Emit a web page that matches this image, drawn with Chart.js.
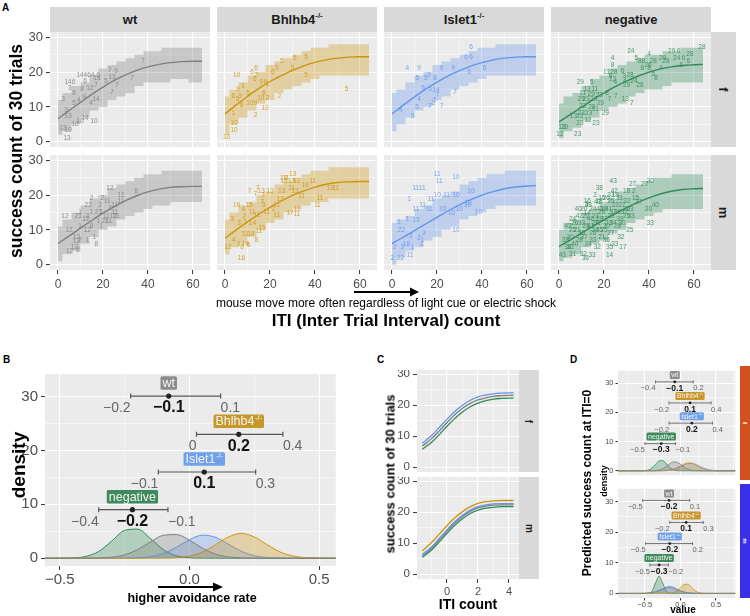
<!DOCTYPE html>
<html><head><meta charset="utf-8">
<script src="https://cdn.jsdelivr.net/npm/chart.js"></script>
<style>
body{margin:0;background:#fff;width:750px;height:616px;position:relative;overflow:hidden;font-family:"Liberation Sans",Arial,sans-serif;color:#000;}
canvas{position:absolute;}
.t{position:absolute;white-space:nowrap;transform:translate(-50%,-50%);}
.rt{position:absolute;white-space:nowrap;transform:translate(-50%,-50%) rotate(-90deg);font-weight:bold;}
.strip{position:absolute;background:#d9d9d9;color:#1a1a1a;display:flex;align-items:center;justify-content:center;font-weight:bold;}
.vt{transform:rotate(90deg);white-space:nowrap;}
sup{font-size:60%;vertical-align:0;position:relative;top:-0.55em;}
.lab{position:absolute;font-weight:bold;font-size:10px;}
</style></head><body>
<script>
// ================= DATA =================
const groups = ['wt','Bhlhb4','Islet1','negative'];
const groupColors = ['#7f7f7f','#cd950c','#6495ed','#2e8b57'];
// Panel A: fitted curve x positions and fits
const curveX = [0,5,10,15,20,25,30,35,40,45,50,55,60,64];
const fitWtF  = [6.6,9,11.3,13.6,15.7,17.6,19.2,20.5,21.5,22.2,22.7,23,23.1,23.1];
const fitBhF  = [8,10.6,13,15.3,17.3,19,20.5,21.8,22.8,23.5,24,24.3,24.4,24.4];
const fitIsF  = [8,10.5,12.9,15.1,17.1,18.9,20.4,21.7,22.7,23.5,24,24.3,24.4,24.4];
const fitNegF = [5.7,7.8,9.9,12,14,15.8,17.4,18.8,20,20.9,21.5,21.9,22.1,22.2];
const fitWtM  = [6.1,8.3,10.5,12.7,14.8,16.7,18.4,19.8,20.9,21.7,22.2,22.4,22.5,22.5];
const fitBhM  = [7.6,10,12.3,14.5,16.5,18.3,19.9,21.2,22.3,23.1,23.6,23.8,23.9,23.9];
const fitIsM  = [6.1,7.9,9.8,11.7,13.6,15.5,17.2,18.7,20,21,21.8,22.3,22.6,22.7];
const fitNegM = [5.2,7.1,9.1,11,12.9,14.7,16.4,17.9,19.2,20.3,21.1,21.6,21.8,21.9];
// Panel A: prediction ribbons (stepped)
const ribX = [0,4,8,12,16,20,24,28,32,36,40,44,48,52,56,60,64];
const ribWtF_lo  = [2,3,5,7,9,10,12,13,14,16,17,17,17,18,18,17,17];
const ribWtF_hi  = [12,14,16,17,19,21,22,23,24,25,26,26,27,27,27,27,27];
const ribBhF_lo  = [2,5,7,9,11,12,14,15,16,17,18,19,19,19,19,19,19];
const ribBhF_hi  = [13,15,17,19,20,22,23,24,25,26,27,27,28,28,28,28,28];
const ribIsF_lo  = [3,5,7,9,10,12,13,15,16,17,18,19,19,19,19,19,19];
const ribIsF_hi  = [14,15,17,19,20,22,23,24,25,26,27,27,28,28,28,28,28];
const ribNegF_lo = [1,3,4,6,7,9,10,11,13,14,15,15,16,17,17,17,17];
const ribNegF_hi = [11,13,14,16,18,19,21,22,23,24,25,25,26,26,27,27,27];
const ribWtM_lo  = [1,3,4,6,8,10,11,13,14,15,16,17,17,18,18,18,18];
const ribWtM_hi  = [11,13,15,17,19,20,22,23,24,25,26,26,27,27,27,27,27];
const ribBhM_lo  = [3,5,6,8,10,12,13,15,16,17,18,18,19,19,19,19,19];
const ribBhM_hi  = [13,15,17,18,20,21,23,24,25,26,27,27,28,28,28,28,28];
const ribIsM_lo  = [0,2,4,5,7,8,10,11,13,14,15,16,17,17,17,17,17];
const ribIsM_hi  = [12,13,14,16,17,19,20,21,23,24,25,26,26,27,27,27,27];
const ribNegM_lo = [1,2,3,5,6,7,9,10,12,13,14,15,16,16,16,16,16];
const ribNegM_hi = [10,12,13,15,16,18,19,21,22,23,24,25,25,26,26,26,26];
// Panel A: labelled observations [ITI count, success count, mouse id]
const ptsWtF = [[37.8,23,'7'],[23,20.5,'7'],[25.8,20.2,'9'],[24,18.4,'13'],[32.9,18.2,'7'],[21.3,17.3,'5'],[26.2,16.1,'7'],[24,14.1,'7'],[9.8,19,'14'],[13.8,19,'464'],[17.8,19,'6'],[5.3,17,'146'],[17.3,18.2,'18'],[12,17.3,'6'],[5.3,15.3,'3'],[10.7,15,'8'],[14.2,15.3,'12'],[16.9,16.1,'7'],[7.1,13.8,'8'],[2.2,12.1,'3'],[7.1,11.2,'5'],[9.3,11.8,'4'],[11.6,12.7,'9'],[16.9,12.1,'14'],[14.7,11.2,'4'],[3.6,9.2,'3'],[4.4,7.2,'13'],[7.6,4.9,'10'],[12,6.9,'14'],[9.8,6,'10'],[16,6,'10'],[2.2,4,'13'],[4.4,3.2,'10'],[4,1.1,'13']];
const ptsBhF = [[5.2,19,'10'],[25.2,23.1,'5'],[31,23.9,'5'],[36,24.2,'5'],[23,21.2,'5'],[30,21.2,'5'],[36,19,'5'],[54,15,'5'],[13.8,21,'6'],[12,20.1,'6'],[13.8,19,'2'],[21.3,20.1,'6'],[13.3,17.9,'6'],[8,16,'1'],[5.8,15,'9'],[16,17.1,'9'],[18,17.1,'6'],[18.9,16.4,'1'],[17.3,13.8,'6'],[24.3,13.1,'2'],[3.7,13.1,'6'],[6.7,13.1,'9'],[10.4,13.8,'5'],[11.1,11.2,'10'],[13.6,11.2,'9'],[15.9,12.4,'10'],[18.9,12.4,'2'],[17.8,9.6,'10'],[13.6,7.5,'2'],[3.7,8.3,'1'],[4,5.2,'10'],[4,3.3,'10'],[0.7,1.4,'10'],[7.4,10.4,'6'],[5.6,12.2,'5']];
const ptsIsF = [[6.8,21,'4'],[12,21,'9'],[22,21,'9'],[27.3,21,'9'],[11.3,18.1,'5'],[15,18.1,'5'],[16.4,19,'9'],[19.1,18.1,'8'],[13.9,15.5,'6'],[16.9,15.2,'5'],[19.5,14.9,'14'],[20.1,13.5,'7'],[12,12.2,'4'],[19.1,12,'6'],[18.4,11.2,'8'],[28,14.2,'7'],[16.9,10.2,'7'],[22,10.2,'7'],[3.9,9.1,'4'],[11.1,10,'5'],[9.2,7.3,'5'],[35.1,27.1,'6'],[32.9,24.3,'6'],[35.1,24.3,'6'],[34.4,20.1,'6'],[41.1,21.1,'6']];
const ptsNegF = [[31.9,26,'24'],[23.8,24.1,'4'],[23.8,22,'8'],[40,25,'4'],[34.4,24.1,'5'],[36.7,23.1,'88'],[41.9,23.1,'28'],[39.6,22.1,'26'],[37,21,'8'],[40,21,'8'],[45.2,21,'4'],[41.9,19.3,'5'],[43.1,18.1,'8'],[46.1,24.1,'29'],[47.5,23.1,'28'],[50.1,26,'29'],[53.1,26,'6'],[52.3,24.1,'24'],[58.2,25,'28'],[55.3,24.1,'6'],[57.5,23.1,'6'],[63.5,27.1,'28'],[54.3,22.1,'6'],[21.1,20,'11'],[24.4,20,'28'],[22.9,18.8,'6'],[23.8,17.9,'13'],[25,17.1,'4'],[28.3,20.2,'6'],[29,18.8,'3'],[31.6,19,'28'],[29.3,17.4,'4'],[30,16.1,'29'],[33.3,17.4,'24'],[36,16.1,'28'],[9.5,17.1,'29'],[14.6,17.1,'5'],[12.5,15.2,'13'],[15.9,15.2,'11'],[10.5,14,'11'],[14.3,13.7,'29'],[17.9,13.5,'23'],[21.4,14,'8'],[9.9,12.1,'29'],[12,12.2,'23'],[15.4,12.1,'29'],[22.5,12.1,'7'],[25.3,13.2,'7'],[29.5,12.1,'13'],[32.4,11.2,'7'],[18.5,11.2,'29'],[10.5,10.2,'23'],[14.6,10,'28'],[9.9,8.3,'23'],[13.2,8.3,'23'],[16.2,9.3,'11'],[20.6,8.3,'29'],[6.4,7.3,'13'],[9.3,7.3,'12'],[9.3,5.4,'23'],[12.9,6.3,'12'],[16.4,5.2,'23'],[1.3,4.2,'13'],[2.5,4.2,'29'],[0.4,2.3,'12'],[8.3,2.3,'23']];
const ptsWtM = [[23.1,22.1,'12'],[34.8,21.1,'8'],[28.1,20.1,'11'],[14.9,19.2,'2'],[13.4,17.2,'22'],[18.7,17.2,'2'],[19.8,19.2,'2'],[21.9,18.2,'11'],[25.3,17.2,'11'],[27.9,18.2,'11'],[3.1,14,'12'],[9.8,15,'1'],[9,14,'21'],[13,14,'2'],[12.4,13,'12'],[14.9,15,'1'],[17.9,15,'21'],[19.4,15,'1'],[21.4,13.8,'11'],[20.9,12.4,'21'],[17.9,12.4,'1'],[22.4,12.4,'11'],[25.3,15,'11'],[24.6,14,'12'],[25.9,13.8,'11'],[23.1,16.2,'3'],[19.4,11.2,'1'],[9.8,11,'1'],[4.9,10,'12'],[14.9,11,'8'],[13,10,'12'],[16.1,7.9,'1'],[8.2,7.9,'12'],[13,7.1,'1'],[9.8,7.1,'2'],[8.2,6.9,'12'],[17,5.9,'8'],[7.3,4.9,'12'],[5.2,3.8,'12'],[8.8,4.1,'8']];
const ptsBhM = [[30.1,26.1,'13'],[26,24.9,'13'],[27.1,24.7,'11'],[26.2,23.9,'13'],[29.6,23.9,'13'],[31.9,23.9,'12'],[39,23.9,'11'],[35.6,22.9,'10'],[29.6,22,'11'],[31.1,21,'13'],[25.2,21,'13'],[46.7,22,'13'],[49.2,22,'11'],[34.1,19.7,'11'],[42.2,19.1,'11'],[41,17,'11'],[32.1,16,'11'],[28.9,14.9,'17'],[31.9,14.5,'11'],[10.9,21,'7'],[14.6,22,'7'],[16.1,21,'13'],[20.1,21,'13'],[13.6,20.3,'7'],[16.9,20,'3'],[24.6,18.8,'13'],[5.2,17,'16'],[8.1,15.9,'4'],[10.8,17,'15'],[17.3,17,'3'],[16.6,18,'7'],[23,17.2,'11'],[21.5,16,'2'],[18.5,15,'11'],[23,14.2,'11'],[3.1,13,'3'],[8.6,14,'2'],[12,15,'11'],[14.2,14.2,'11'],[12.2,11.8,'14'],[6.2,11.8,'3'],[9.1,12.3,'1'],[16.6,10.6,'15'],[15.1,9.7,'11'],[9.1,8.9,'11'],[11.6,8.7,'14'],[14,7,'8'],[3.8,7,'4'],[6,5.8,'3'],[9.1,5.8,'14'],[10.5,5.5,'6'],[1.3,4.9,'12'],[7.6,4.9,'8'],[7.3,2,'16']];
const ptsIsM = [[20.1,26.1,'11'],[21,23.9,'11'],[28.4,25.2,'10'],[12,22,'1111'],[20.1,20.1,'10'],[24.3,20.1,'11'],[28.4,20.1,'10'],[7.6,18.8,'1'],[17.3,18.8,'11'],[13.6,17,'11'],[16.6,16,'11'],[10.7,16,'11'],[22.5,16,'10'],[29.9,16,'10'],[26.5,14.9,'10'],[33.6,17.2,'10'],[35.1,21,'10'],[6.8,13,'1'],[10.7,12.8,'13'],[3.1,12.1,'1'],[4.2,9.8,'22'],[8.3,8.1,'3'],[12,7.6,'2'],[14.2,9,'3'],[13.6,7.1,'1'],[13.2,5.9,'1'],[6.4,5.9,'18'],[1.2,4.9,'2'],[4.6,4.9,'3'],[9.1,4.9,'1'],[8.1,2.7,'11'],[0.1,2,'2'],[3.8,2,'22'],[28.4,9.9,'10'],[33.9,17.7,'10'],[38.3,15,'10']];
const ptsNegM = [[24.1,24,'43'],[17.9,22,'38'],[16,20.1,'2'],[32.7,23,'27'],[38.1,23,'27'],[40.6,24,'30'],[33.3,21,'2'],[30,21,'18'],[24.6,21,'42'],[12.6,18.1,'16'],[17.8,18.1,'18'],[23,18.1,'25'],[30.2,18.1,'32'],[34,19,'15'],[35.3,18,'27'],[8.5,16,'40'],[31.6,16,'23'],[39.8,16,'20'],[42.8,17,'40'],[12.6,14.9,'14'],[6,13,'24'],[12.2,17.5,'3'],[40.6,12,'33'],[31.5,9.9,'25'],[27.5,7.8,'32'],[22.5,4.9,'35'],[24.8,5.9,'33'],[28.4,4.9,'17'],[22.5,2.7,'14'],[1.5,2.7,'43'],[11.7,1.9,'36'],[14.7,2.7,'33'],[6.1,3,'31'],[3.9,4.9,'38'],[10.8,3,'32'],[8,10,'21'],[10,12,'33'],[12,11,'25'],[14,13,'40'],[15,9,'26'],[16,14,'23'],[17,12,'31'],[18,10,'35'],[19,15,'28'],[20,13,'37'],[21,11,'30'],[22,16,'41'],[23,14,'29'],[24,12,'34'],[25,17,'22'],[26,15,'36'],[27,13,'39'],[28,17,'27'],[29,15,'32'],[30,14,'25'],[9,14,'42'],[11,16,'20'],[13,17,'38'],[15,16,'24'],[17,18,'43'],[19,19,'15'],[21,19,'26'],[23,20,'33'],[25,20,'18'],[27,19,'31'],[5,8,'30'],[7,6,'40'],[9,7,'28'],[11,8,'37'],[13,6,'24'],[15,7,'33'],[17,5,'32'],[19,8,'21'],[21,7,'36'],[23,9,'27'],[4,11,'43'],[6,10,'25'],[3,7,'38'],[5,5,'31'],[7,12,'26'],[10,9,'35'],[12,14,'22'],[14,11,'41'],[16,10,'34'],[18,13,'29'],[20,16,'39'],[22,12,'23'],[24,15,'37'],[26,11,'28'],[28,12,'30'],[30,16,'20'],[32,14,'33'],[16,12,'27'],[18,16,'40'],[20,10,'25']];

// Panel B: posterior densities of the group effect
const bGrid = [-0.6,-0.55,-0.5,-0.45,-0.4,-0.35,-0.3,-0.25,-0.2,-0.15,-0.1,-0.05,0,0.05,0.1,0.15,0.2,0.25,0.3,0.35,0.4,0.45,0.5,0.55,0.6];
const bDensWt  = [0,0,0,0,0.01,0.04,0.17,0.61,1.59,3.03,4.26,4.39,3.33,1.85,0.75,0.23,0.05,0.01,0,0,0,0,0,0,0];
const bDensBh  = [0,0,0,0,0,0,0,0,0,0,0.02,0.1,0.39,1.14,2.49,3.94,4.6,3.94,2.49,1.14,0.39,0.1,0.02,0,0];
const bDensIs  = [0,0,0,0,0,0,0,0.01,0.07,0.28,0.88,2.04,3.43,4.27,3.89,2.61,1.28,0.46,0.12,0.02,0,0,0,0,0];
const bDensNeg = [0,0,0.01,0.05,0.32,1.25,3.17,5.16,5.4,3.63,1.56,0.43,0.08,0.01,0,0,0,0,0,0,0,0,0,0,0];
const bRowY = [30.1, 23, 16, 9];
const bEst  = [-0.08, 0.19, 0.057, -0.22];
const bLo   = [-0.227, 0.027, -0.12, -0.35];
const bHi   = [0.12, 0.36, 0.255, -0.083];
const bEstLbl = ['−0.1','0.2','0.1','−0.2'];
const bLoLbl  = ['−0.2','0','−0.1','−0.4'];
const bHiLbl  = ['0.1','0.4','0.3','−0.1'];

// Panel C: group curves per sex
const cX = [-1.6,-1,-0.5,0,0.5,1,1.5,2,2.5,3,3.5,4,4.3];
const cBlueF  = [7.7,10.2,12.8,15.5,18,20,21.6,22.7,23.3,23.7,23.9,24,24];
const cGreyF  = [6.8,9.2,11.7,14.4,16.9,19,20.6,21.7,22.4,22.9,23.1,23.2,23.2];
const cGreenF = [5.8,8,10.5,13.2,15.7,17.8,19.5,20.7,21.5,22,22.2,22.3,22.3];
const cOrangeM= [7.5,10.2,12.9,15.7,18.2,20.2,21.8,22.9,23.4,23.7,23.8,23.8,23.8];
const cBlueM  = [6.3,8.8,11.5,14.3,16.9,19,20.7,21.8,22.4,22.7,22.8,22.8,22.8];
const cGreyM  = [5.9,8.4,11.1,13.9,16.5,18.6,20.3,21.4,22,22.3,22.4,22.4,22.4];
const cGreenM = [5.4,7.8,10.4,13.2,15.8,17.9,19.6,20.7,21.3,21.6,21.8,21.8,21.8];

// Panel D: predicted success at ITI=0, densities per sex
const dGrid = [-0.9,-0.85,-0.8,-0.75,-0.7,-0.65,-0.6,-0.55,-0.5,-0.45,-0.4,-0.35,-0.3,-0.25,-0.2,-0.15,-0.1,-0.05,0,0.05,0.1,0.15,0.2,0.25,0.3,0.35,0.4,0.45,0.5,0.55,0.6,0.65,0.7,0.75,0.8];
const dWtF  = [0,0,0,0,0,0,0,0,0,0,0.02,0.08,0.28,0.73,1.51,2.43,3.04,2.97,2.25,1.33,0.61,0.22,0.06,0.01,0,0,0,0,0,0,0,0,0,0,0];
const dBhF  = [0,0,0,0,0,0,0,0,0,0,0,0,0.01,0.02,0.08,0.22,0.51,0.98,1.64,2.28,2.66,2.62,2.16,1.5,0.88,0.43,0.18,0.06,0.02,0,0,0,0,0,0];
const dIsF  = [0,0,0,0,0,0,0,0,0,0,0,0,0.01,0.03,0.08,0.22,0.47,0.89,1.45,2.03,2.48,2.59,2.33,1.8,1.2,0.7,0.35,0.15,0.06,0.02,0,0,0,0,0];
const dNegF = [0,0,0,0,0,0,0,0.01,0.06,0.29,0.96,2.19,3.35,3.49,2.47,1.17,0.38,0.08,0.01,0,0,0,0,0,0,0,0,0,0,0,0,0,0,0,0];
const dWtM  = [0,0,0,0,0,0,0.01,0.02,0.07,0.16,0.34,0.65,1.06,1.49,1.81,1.89,1.71,1.32,0.89,0.51,0.26,0.11,0.04,0.01,0,0,0,0,0,0,0,0,0,0,0];
const dBhM  = [0,0,0,0,0,0,0,0,0,0,0,0,0,0,0.01,0.05,0.25,0.83,1.88,2.88,3,2.12,1.01,0.33,0.07,0.01,0,0,0,0,0,0,0,0,0];
const dIsM  = [0,0,0,0,0,0,0,0,0.01,0.03,0.1,0.31,0.75,1.4,2.03,2.3,2.03,1.4,0.75,0.31,0.1,0.03,0.01,0,0,0,0,0,0,0,0,0,0,0,0];
const dNegM = [0,0,0,0,0,0,0,0,0,0.06,0.76,3.4,5.6,3.4,0.76,0.06,0,0,0,0,0,0,0,0,0,0,0,0,0,0,0,0,0,0,0];
const dRowY = [30.4, 23.2, 16.3, 9.3];
const dEstF = [-0.08, 0.135, 0.16, -0.27];
const dLoF  = [-0.35, -0.16, -0.16, -0.5];
const dHiF  = [0.18, 0.43, 0.45, -0.07];
const dEstLblF = ['−0.1','0.1','0.2','−0.3'];
const dLoLblF  = ['−0.4','−0.2','−0.2','−0.5'];
const dHiLblF  = ['0.2','0.4','0.4','−0.1'];
const dEstM = [-0.16, 0.08, -0.15, -0.3];
const dLoM  = [-0.53, -0.15, -0.49, -0.43];
const dHiM  = [0.13, 0.32, 0.17, -0.17];
const dEstLblM = ['−0.2','0.1','−0.2','−0.3'];
const dLoLblM  = ['−0.5','−0.2','−0.5','−0.5'];
const dHiLblM  = ['0.1','0.3','0.2','−0.2'];

// ================= RENDERING =================
const FONT = '"Liberation Sans", Arial, sans-serif';
Chart.defaults.font.family = FONT;

function rgba(hex, a){ const n=parseInt(hex.slice(1),16); return `rgba(${n>>16&255},${n>>8&255},${n&255},${a})`; }
function mkCanvas(l,t,w,h){ const c=document.createElement('canvas'); c.width=w; c.height=h; c.style.left=l+'px'; c.style.top=t+'px'; c.style.width=w+'px'; c.style.height=h+'px'; document.body.appendChild(c); return c; }
const fmtInt = v => String(Math.round(v));
const fmt1 = v => (v < -1e-9 ? '−' : '') + Math.abs(v).toFixed(1);

function axis(pos, min, max, vals, major, show, size, fs, fmt, pad, tl){
  const isMaj = v => Math.abs(v/major - Math.round(v/major)) < 1e-6;
  const tlen = tl==null?4:tl;
  return { type:'linear', position:pos, min, max, display:true,
    afterBuildTicks: s => { s.ticks = vals.map(v=>({value:v})); },
    afterFit: s => { if(pos==='left'){ s.width=size; } else { s.height=size; } s.paddingLeft=0; s.paddingRight=0; s.paddingTop=0; s.paddingBottom=0; },
    border:{display:false},
    grid:{ drawOnChartArea:true, color:'#ffffff', lineWidth: c => (c.tick && isMaj(c.tick.value)) ? 1.1 : 0.5,
      drawTicks: show, tickLength: show?tlen:0, tickWidth:1,
      tickColor: c => (c.tick && isMaj(c.tick.value)) ? '#333333' : 'rgba(0,0,0,0)' },
    ticks:{ display: show, autoSkip:false, maxRotation:0, minRotation:0, padding: pad==null?3:pad, color:'#4d4d4d', font:{size:fs, family:FONT}, callback: v => isMaj(v) ? fmt(v) : '' }
  };
}
const bgPlugin = { id:'panelBg', beforeDraw(chart){ const a=chart.chartArea, ctx=chart.ctx; ctx.save(); ctx.fillStyle='#ebebeb'; ctx.fillRect(a.left,a.top,a.right-a.left,a.bottom-a.top); ctx.restore(); } };
const textPts = { id:'textPts', afterDatasetsDraw(chart){ const ctx=chart.ctx, a=chart.chartArea; ctx.save(); ctx.beginPath(); ctx.rect(a.left,a.top,a.right-a.left,a.bottom-a.top); ctx.clip();
  chart.data.datasets.forEach((ds,i)=>{ if(!ds.txt) return; const meta=chart.getDatasetMeta(i); ctx.fillStyle=ds.txtColor; ctx.font='6.5px '+FONT; ctx.textAlign='center'; ctx.textBaseline='middle';
    meta.data.forEach((el,j)=>{ ctx.fillText(ds.txt[j], el.x, el.y); }); });
  ctx.restore(); } };
const annot = { id:'annot', afterDatasetsDraw(chart, args, o){ if(!o || !o.rows) return; const xs=chart.scales.x, ys=chart.scales.y, ctx=chart.ctx; ctx.save();
  const names=['wt','Bhlhb4','Islet1','negative'], sups=['','-/-','-/-',''];
  for(let i=0;i<o.rows.length;i++){
    const y=ys.getPixelForValue(o.rows[i]), xe=xs.getPixelForValue(o.est[i]), xl=xs.getPixelForValue(o.lo[i]), xh=xs.getPixelForValue(o.hi[i]);
    ctx.font=o.fL+'px '+FONT; const w1=ctx.measureText(names[i]).width; ctx.font=(o.fL*0.6)+'px '+FONT; const w2=sups[i]?ctx.measureText(sups[i]).width+0.5:0;
    const bw=w1+w2+o.padX*2, bh=o.fL+o.padY*2, by=y-o.boxDy;
    ctx.fillStyle=o.boxColors[i]; ctx.beginPath(); ctx.roundRect(xe-bw/2, by-bh/2, bw, bh, 1.5); ctx.fill();
    ctx.fillStyle='#f4f4f4'; ctx.textBaseline='middle'; ctx.textAlign='left'; ctx.font=o.fL+'px '+FONT; ctx.fillText(names[i], xe-bw/2+o.padX, by+0.5);
    if(sups[i]){ ctx.font=(o.fL*0.6)+'px '+FONT; ctx.fillText(sups[i], xe-bw/2+o.padX+w1+0.5, by-o.fL*0.28); }
    const ty=y+o.txtDy; ctx.fillStyle='#666666'; ctx.font=o.fN+'px '+FONT;
    ctx.textAlign='right'; ctx.fillText(o.loL[i], xl, ty); ctx.textAlign='left'; ctx.fillText(o.hiL[i], xh, ty);
    ctx.fillStyle='#111111'; ctx.font='bold '+o.fB+'px '+FONT; ctx.textAlign='center'; ctx.fillText(o.estL[i], xe, ty);
  }
  ctx.restore(); } };
function baseOpts(){ return { responsive:false, animation:false, devicePixelRatio:1, events:[], layout:{padding:0}, plugins:{legend:{display:false}, tooltip:{enabled:false}} }; }

// ----- Panel A facets -----
function facetA(col,row,color,fit,rlo,rhi,pts){
  const pl=[50,217,384,551][col], pt=[32,155][row];
  const yW = col===0?50:0, xH = row===1?24:0;
  const cv = mkCanvas(pl-yW, pt, 160+yW, 115+xH);
  const opts = baseOpts();
  opts.scales = { x: axis('bottom',-3.55,67.55,[0,10,20,30,40,50,60],20,row===1,xH,12,fmtInt,3),
                  y: axis('left',-1.5,31.5,[0,5,10,15,20,25,30],10,col===0,yW,13,fmtInt,3) };
  new Chart(cv, {type:'line', data:{datasets:[
    {data: ribX.map((x,i)=>({x,y:rlo[i]})), stepped:'middle', borderColor:'transparent', borderWidth:0, pointRadius:0, fill:false, order:4},
    {data: ribX.map((x,i)=>({x,y:rhi[i]})), stepped:'middle', borderColor:'transparent', borderWidth:0, pointRadius:0, fill:'-1', backgroundColor: rgba(color,0.33), order:3},
    {data: pts.map(p=>({x:p[0],y:p[1]})), showLine:false, pointRadius:0, txt: pts.map(p=>p[2]), txtColor: rgba(color,0.85), order:2},
    {data: curveX.map((x,i)=>({x,y:fit[i]})), borderColor:color, borderWidth:1.4, pointRadius:0, tension:0.4, cubicInterpolationMode:'monotone', fill:false, order:1}
  ]}, options: opts, plugins:[bgPlugin, textPts]});
}
facetA(0,0,groupColors[0],fitWtF,ribWtF_lo,ribWtF_hi,ptsWtF);
facetA(1,0,groupColors[1],fitBhF,ribBhF_lo,ribBhF_hi,ptsBhF);
facetA(2,0,groupColors[2],fitIsF,ribIsF_lo,ribIsF_hi,ptsIsF);
facetA(3,0,groupColors[3],fitNegF,ribNegF_lo,ribNegF_hi,ptsNegF);
facetA(0,1,groupColors[0],fitWtM,ribWtM_lo,ribWtM_hi,ptsWtM);
facetA(1,1,groupColors[1],fitBhM,ribBhM_lo,ribBhM_hi,ptsBhM);
facetA(2,1,groupColors[2],fitIsM,ribIsM_lo,ribIsM_hi,ptsIsM);
facetA(3,1,groupColors[3],fitNegM,ribNegM_lo,ribNegM_hi,ptsNegM);

// ----- density + interval charts (B and D) -----
function densSets(grid, dens, lw){ return dens.map((d,g)=>({ data: grid.map((x,i)=>({x,y:d[i]})), borderColor: groupColors[g], borderWidth: lw, backgroundColor: rgba(groupColors[g],0.3), fill:'origin', pointRadius:0, tension:0.4, cubicInterpolationMode:'monotone', order:5 })); }
function errSets(rows, lo, hi, est, cap, lw, pr){
  const s = rows.map((r,i)=>({ data:[{x:lo[i],y:r},{x:hi[i],y:r}], borderColor:'#555555', borderWidth:lw, pointStyle:'line', pointRotation:90, pointRadius:cap, pointBorderColor:'#555555', pointBorderWidth:lw, fill:false, order:2 }));
  s.push({ data: rows.map((r,i)=>({x:est[i],y:r})), showLine:false, pointRadius:pr, pointBackgroundColor:'#222222', pointBorderColor:'#222222', pointBorderWidth:0, order:1 });
  return s;
}
const boxColors = ['#8c8c8c','#c9962a','#6fa1ea','#3f8a5a'];

// Panel B
{
  const cv = mkCanvas(0, 369, 341, 197+26);
  const opts = baseOpts();
  opts.scales = { x: axis('bottom',-0.557,0.564,[-0.5,-0.25,0,0.25,0.5],0.5,true,26,15,fmt1,1),
                  y: axis('left',-1.45,34.16,[0,5,10,15,20,25,30],10,true,45,15,fmtInt,3) };
  opts.plugins.annot = { rows:bRowY, est:bEst, lo:bLo, hi:bHi, estL:bEstLbl, loL:bLoLbl, hiL:bHiLbl, boxColors, fL:12.5, fN:14, fB:16, padX:2, padY:0.5, boxDy:13, txtDy:12 };
  new Chart(cv, {type:'line', data:{datasets:[...densSets(bGrid,[bDensWt,bDensBh,bDensIs,bDensNeg],1), ...errSets(bRowY,bLo,bHi,bEst,2.5,1.2,2.6)]}, options:opts, plugins:[bgPlugin, annot]});
}

// Panel C
function facetC(row, sets){
  const top=[370,477][row], xH=row===1?20:0;
  const cv = mkCanvas(380, top, 139, 102+xH);
  const opts = baseOpts();
  opts.scales = { x: axis('bottom',-1.94,4.65,[-1,0,1,2,3,4],2,row===1,xH,11,fmtInt,2),
                  y: axis('left',-1.6,31.4,[0,5,10,15,20,25,30],10,true,37,11.5,fmtInt,3) };
  new Chart(cv, {type:'line', data:{datasets: sets.map(([vals,g])=>({ data: cX.map((x,i)=>({x,y:vals[i]})), borderColor: groupColors[g], borderWidth:1.3, pointRadius:0, tension:0.4, cubicInterpolationMode:'monotone', fill:false }))}, options:opts, plugins:[bgPlugin]});
}
facetC(0, [[cBlueF,2],[cGreyF,0],[cGreenF,3]]);
facetC(1, [[cOrangeM,1],[cBlueM,2],[cGreyM,0],[cGreenM,3]]);

// Panel D
function facetD(row, dens, est, lo, hi, estL, loL, hiL){
  const top=[366,484][row], xH=row===1?14:0;
  const cv = mkCanvas(590, top, 150, 114+xH);
  const opts = baseOpts();
  opts.scales = { x: axis('bottom',-0.878,0.77,[-0.75,-0.5,-0.25,0,0.25,0.5,0.75],0.5,row===1,xH,7.5,fmt1,0,2.5),
                  y: axis('left',-1.5,34.2,[0,5,10,15,20,25,30],10,true,28,7.5,fmtInt,2,2.5) };
  opts.plugins.annot = { rows:dRowY, est, lo, hi, estL, loL, hiL, boxColors, fL:7, fN:7.5, fB:8.5, padX:1.5, padY:0.5, boxDy:7, txtDy:6.5 };
  new Chart(cv, {type:'line', data:{datasets:[...densSets(dGrid,dens,0.8), ...errSets(dRowY,lo,hi,est,1.5,0.8,1.4)]}, options:opts, plugins:[bgPlugin, annot]});
}
facetD(0, [dWtF,dBhF,dIsF,dNegF], dEstF, dLoF, dHiF, dEstLblF, dLoLblF, dHiLblF);
facetD(1, [dWtM,dBhM,dIsM,dNegM], dEstM, dLoM, dHiM, dEstLblM, dLoLblM, dHiLblM);
</script>

<!-- Panel labels -->
<div class="lab" style="left:2px;top:2px;">A</div>
<div class="lab" style="left:3px;top:354px;">B</div>
<div class="lab" style="left:377px;top:354px;">C</div>
<div class="lab" style="left:570px;top:354px;">D</div>

<!-- Panel A strips -->
<div class="strip" style="left:50px;top:7px;width:160px;height:25px;font-size:13px;">wt</div>
<div class="strip" style="left:217px;top:7px;width:160px;height:25px;font-size:13px;">Bhlhb4<sup>-/-</sup></div>
<div class="strip" style="left:384px;top:7px;width:160px;height:25px;font-size:13px;">Islet1<sup>-/-</sup></div>
<div class="strip" style="left:551px;top:7px;width:160px;height:25px;font-size:13px;">negative</div>
<div class="strip" style="left:711px;top:32px;width:25px;height:115px;font-size:13px;"><span class="vt">f</span></div>
<div class="strip" style="left:711px;top:155px;width:25px;height:115px;font-size:13px;"><span class="vt">m</span></div>
<div class="rt" style="left:16px;top:151px;font-size:17.5px;">success count of 30 trials</div>
<svg style="position:absolute;left:350px;top:286px;" width="75" height="12"><line x1="4" y1="6" x2="62" y2="6" stroke="#000" stroke-width="2"/><polygon points="60,1.5 69,6 60,10.5" fill="#000"/></svg>
<div class="t" style="left:386px;top:303px;font-size:12px;">mouse move more often regardless of light cue or electric shock</div>
<div class="t" style="left:386px;top:321px;font-size:17px;font-weight:bold;">ITI (Inter Trial Interval) count</div>

<!-- Panel B titles -->
<div class="rt" style="left:19px;top:465px;font-size:19px;">density</div>
<svg style="position:absolute;left:155px;top:581px;" width="75" height="12"><line x1="3" y1="6" x2="60" y2="6" stroke="#000" stroke-width="2"/><polygon points="58,1.5 68,6 58,10.5" fill="#000"/></svg>
<div class="t" style="left:192px;top:598px;font-size:12.5px;font-weight:bold;">higher avoidance rate</div>

<!-- Panel C -->
<div class="strip" style="left:519px;top:370px;width:20px;height:102px;font-size:10px;"><span class="vt">f</span></div>
<div class="strip" style="left:519px;top:477px;width:20px;height:102px;font-size:10px;"><span class="vt">m</span></div>
<div class="rt" style="left:390px;top:474px;font-size:13px;">success count of 30 trials</div>
<div class="t" style="left:468px;top:604px;font-size:14px;font-weight:bold;">ITI count</div>

<!-- Panel D -->
<div class="strip" style="left:740px;top:366px;width:10px;height:114px;font-size:6px;background:#d4511e;color:#fff;"><span class="vt">f</span></div>
<div class="strip" style="left:740px;top:484px;width:10px;height:114px;font-size:6px;background:#3b2fe8;color:#fff;"><span class="vt">m</span></div>
<div class="rt" style="left:587px;top:483px;font-size:12px;">Predicted success count at ITI=0</div>
<div class="rt" style="left:604px;top:481px;font-size:9px;">density</div>
<div class="t" style="left:683px;top:609px;font-size:10px;font-weight:bold;">value</div>
</body></html>
